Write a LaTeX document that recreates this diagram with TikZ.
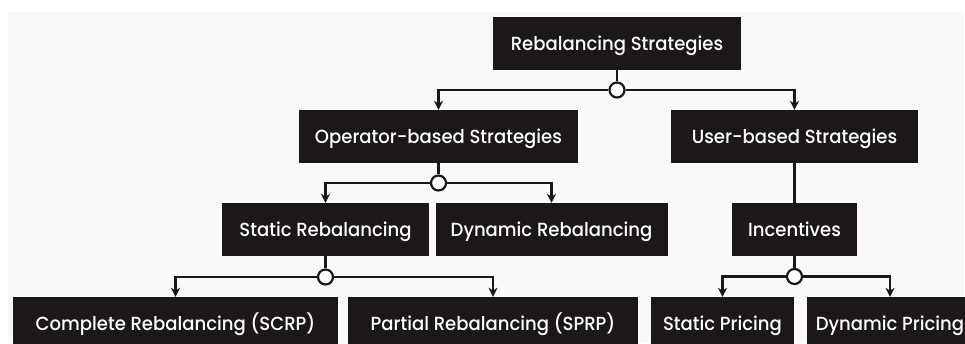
\documentclass[tikz,border=0pt]{standalone}
\usepackage{fontspec}
\setmainfont{Poppins}[UprightFont={* Medium}, FakeStretch=0.95]
\usetikzlibrary{arrows.meta}

\definecolor{fondo}{HTML}{F9F9F9}
\definecolor{oscuro}{HTML}{1C1818}

\tikzset{
  caja/.style={fill=oscuro, text=white, minimum height=53pt, inner sep=0pt,
    text height=13.5pt, text depth=0pt, font=\fontsize{19}{21}\selectfont},
  nudo/.style={circle, draw=oscuro, fill=white, line width=2.2pt, minimum size=15pt, inner sep=0pt},
  linea/.style={draw=oscuro, line width=2.2pt},
  flecha/.style={linea, -{Stealth[length=9pt,width=9pt]}},
}

\begin{document}
\begin{tikzpicture}[x=1pt,y=-1pt]
  % Fondo
  \useasboundingbox (0,0) rectangle (965,343);
  \fill[white] (0,0) rectangle (965,343);
  \fill[fondo] (8,12) rectangle (964,343);
  \clip (0,0) rectangle (965,343);

  % Cajas
  \node[caja, minimum width=248pt] (raiz) at (617,43.5) {Rebalancing Strategies};
  \node[caja, minimum width=279pt] (operador) at (438.5,136.5) {Operator-based Strategies};
  \node[caja, minimum width=247pt] (usuario) at (794.5,136.5) {User-based Strategies};
  \node[caja, minimum width=207pt] (estatico) at (325.5,229.5) {Static Rebalancing};
  \node[caja, minimum width=232pt] (dinamico) at (551.5,229.5) {Dynamic Rebalancing};
  \node[caja, minimum width=125pt] (incentivos) at (794.5,229.5) {Incentives};
  \node[caja, minimum width=325pt] (completo) at (175.5,323.5) {Complete Rebalancing (SCRP)};
  \node[caja, minimum width=290pt] (parcial) at (493,323.5) {Partial Rebalancing (SPRP)};
  \node[caja, minimum width=143pt] (precioest) at (722.5,323.5) {Static Pricing};
  \node[caja, minimum width=166pt] (preciodin) at (890,323.5) {Dynamic Pricing};

  % Nudos
  \node[nudo] (n1) at (617,90) {};
  \node[nudo] (n2) at (438.5,183) {};
  \node[nudo] (n3) at (325.5,277) {};
  \node[nudo] (n4) at (794.5,276.5) {};

  % Conectores
  \draw[linea] (raiz) -- (n1);
  \draw[flecha] (n1) -| (operador);
  \draw[flecha] (n1) -| (usuario);
  \draw[linea] (operador) -- (n2);
  \draw[flecha] (n2) -| (estatico);
  \draw[flecha] (n2) -| (dinamico);
  \draw[linea] (usuario) -- (incentivos);
  \draw[linea] (estatico) -- (n3);
  \draw[flecha] (n3) -| (completo);
  \draw[flecha] (n3) -| (parcial);
  \draw[linea] (incentivos) -- (n4);
  \draw[flecha] (n4) -| (precioest);
  \draw[flecha] (n4) -| (preciodin);
\end{tikzpicture}
\end{document}
